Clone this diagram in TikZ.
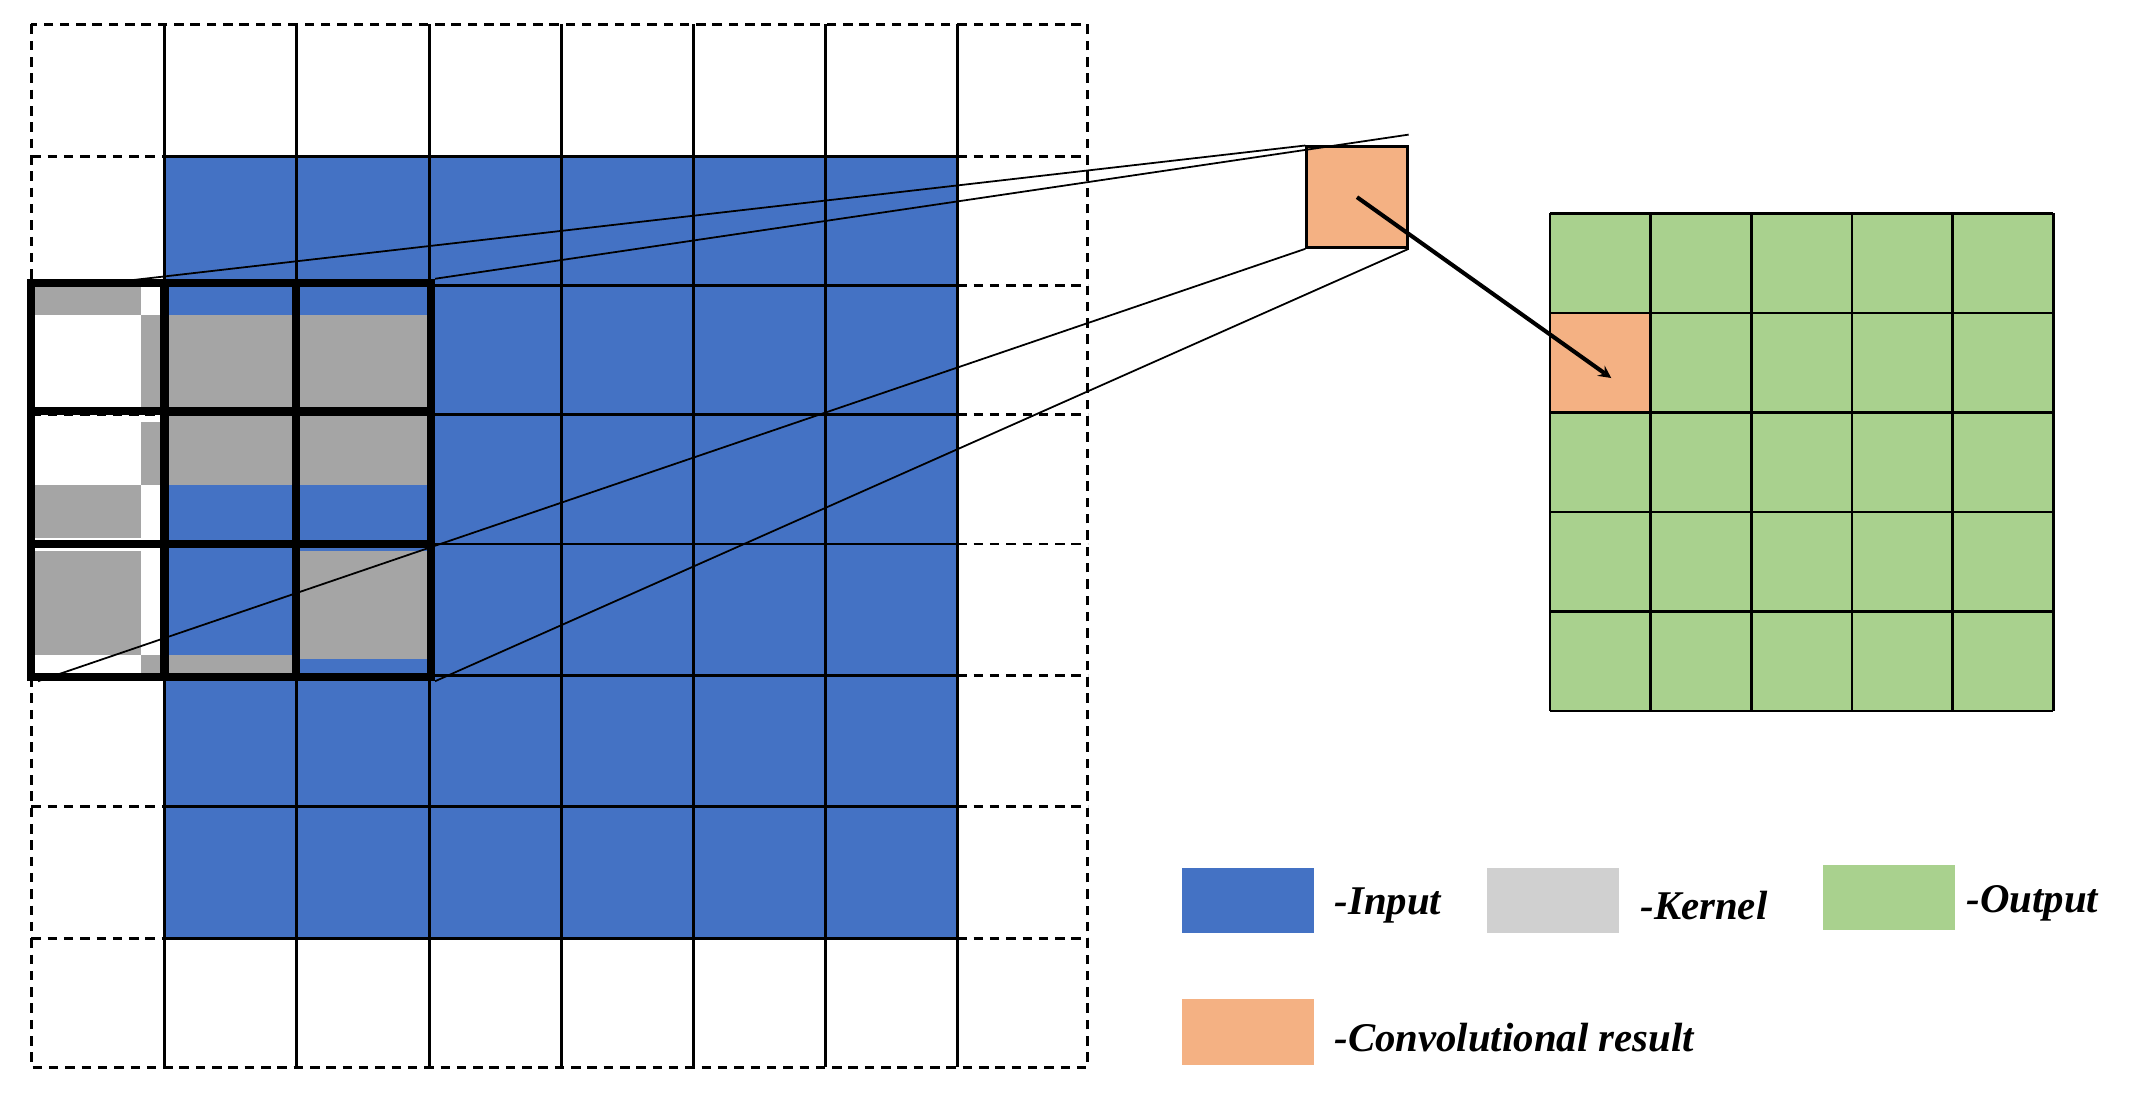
\documentclass[tikz,border=0pt]{standalone}
\usepackage{fontspec}
\setmainfont{Liberation Serif}
\begin{document}
\begin{tikzpicture}[x=1pt,y=-1pt,
  grid/.style={line width=2pt,black},
  dgrid/.style={line width=2pt,black,dash pattern=on 7pt off 5pt},
  kern/.style={line width=6pt,black},
  proj/.style={line width=1.3pt,black},
  lab/.style={anchor=west,font=\fontsize{30}{32}\selectfont\bfseries\itshape}]
\definecolor{cin}{HTML}{4472C4}
\definecolor{ck}{HTML}{A5A5A5}
\definecolor{ckl}{HTML}{D0D0D0}
\definecolor{cout}{HTML}{A9D18E}
\definecolor{cres}{HTML}{F4B183}
\useasboundingbox (0,0) rectangle (1568,807);
% input
\fill[cin] (121,115) rectangle (704,690);
% kernel gray patches
\fill[ck] (23,210) rectangle (104,232);
\fill[ck] (104,232) rectangle (121,300);
\fill[ck] (104,310) rectangle (121,357);
\fill[ck] (23,357) rectangle (104,396);
\fill[ck] (23,405) rectangle (104,482);
\fill[ck] (104,482) rectangle (121,497);
\fill[ck] (121,232) rectangle (316,300);
\fill[ck] (121,305) rectangle (316,357);
\fill[ck] (121,482) rectangle (218,497);
\fill[ck] (218,405) rectangle (316,485);
% grid
\foreach \x in {121,218,316,413,510,607,704} \draw[grid] (\x,18) -- (\x,785);
\foreach \y in {115,210,305,400,497,593,690} {
  \draw[grid] (121,\y) -- (704,\y);
  \draw[dgrid] (23,\y) -- (121,\y);
  \draw[dgrid] (704,\y) -- (800,\y);}
\draw[dgrid] (23,18) rectangle (800,785);
% kernel
\node[draw,kern,minimum width=294pt,minimum height=290pt,inner sep=0pt] (k) at (170,353) {};
\draw[kern] (121,208) -- (121,498) (218,208) -- (218,498) (23,302) -- (316,302) (23,400) -- (316,400);
% result
\node[draw,line width=2pt,fill=cres,minimum size=74pt,inner sep=0pt] (r) at (998,145) {};
\coordinate (k1) at (80,208);
\draw[proj] (k1) -- (r.north west);
\draw[proj] (k.north east) -- ([yshift=8pt]r.north east);
\draw[proj] ([xshift=8pt]k.south west) -- (r.south west);
\draw[proj] (k.south east) -- (r.south east);
% output
\fill[cout] (1140,157) rectangle (1510,523);
\fill[cres] (1140,231) rectangle (1214,304);
\foreach \i in {0,...,5} {
  \draw[grid] (1140+74*\i,157) -- (1140+74*\i,523);
  \draw[grid] (1140,157+73.2*\i) -- (1510,157+73.2*\i);}
\coordinate (o) at (1185,278);
\draw[line width=3pt,-stealth] (r.center) -- (o);
% legend
\node[fill=cin,minimum width=97pt,minimum height=48pt,inner sep=0pt] (l1) at (918,662) {};
\node[lab] at (978,666) {-Input};
\node[fill=ckl,minimum width=97pt,minimum height=48pt,inner sep=0pt] (l2) at (1142,662) {};
\node[lab] at (1203,666) {-Kernel};
\node[fill=cout,minimum width=97pt,minimum height=48pt,inner sep=0pt] (l3) at (1389,660) {};
\node[lab] at (1443,664) {-Output};
\node[fill=cres,minimum width=97pt,minimum height=48pt,inner sep=0pt] (l4) at (918,759) {};
\node[lab] at (978,763) {-Convolutional result};
\end{tikzpicture}
\end{document}
